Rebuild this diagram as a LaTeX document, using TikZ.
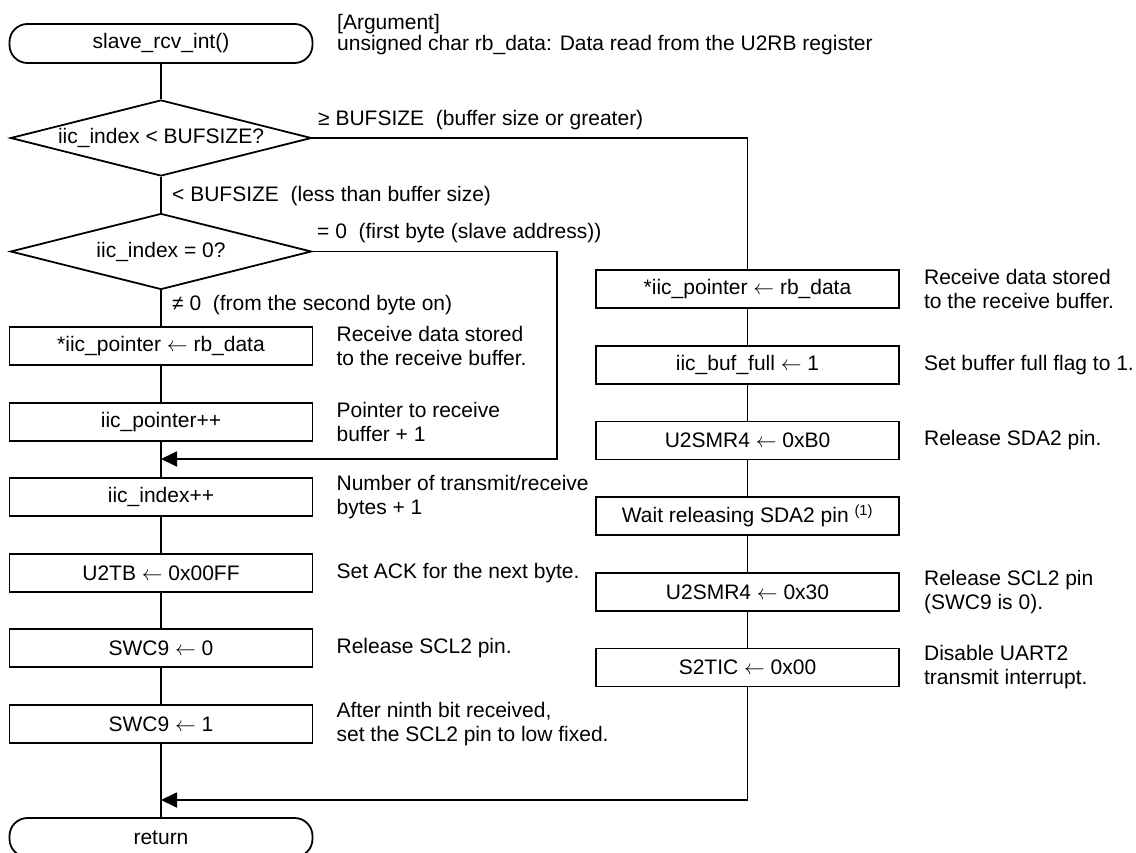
\documentclass[tikz,border=0pt]{standalone}
\usepackage{fontspec}
\setmainfont{Liberation Sans}
\usetikzlibrary{shapes.geometric,arrows.meta}

\newcommand{\assign}{\ $\leftarrow$\ }

\tikzset{
  flowbox/.style={draw, line width=1.8pt, minimum width=303pt, minimum height=38pt, inner sep=0pt},
  termbox/.style={draw, line width=1.8pt, rounded corners=18pt, minimum width=303pt, minimum height=39pt, inner sep=0pt},
  decision/.style={draw, diamond, line width=1.8pt, aspect=3.96, minimum width=301pt, minimum height=76pt, inner sep=0pt},
  note/.style={anchor=west, align=left, inner sep=0pt},
  branchtext/.style={anchor=base west, inner sep=0pt},
  flowline/.style={line width=1.8pt},
  flowarrow/.style={line width=1.8pt, -{Triangle[length=16pt,width=15pt]}}
}

\begin{document}
\begin{tikzpicture}[x=1pt, y=-1pt, font=\fontsize{21}{24}\selectfont]

    % Page frame (the return box is cut at the bottom)
    \useasboundingbox (0,0) rectangle (1136,853);
    \clip (0,0) rectangle (1136,853);

    % Start terminal and argument
    \node[termbox] (start) at (161,43.5) {slave\_rcv\_int()};
    \node[branchtext] (arg) at (337,30) {[Argument]};
    \node[branchtext] (argdesc) at (337,51) {unsigned char rb\_data: Data read from the U2RB register};

    % Decisions
    \node[decision] (idx) at (161,138) {iic\_index < BUFSIZE?};
    \node[decision] (first) at (161,251.5) {iic\_index = 0?};

    % Branch labels
    \node[branchtext] (ge) at (318,126) {≥ BUFSIZE\ \ (buffer size or greater)};
    \node[branchtext] (lt) at (172,202) {< BUFSIZE\ \ (less than buffer size)};
    \node[branchtext] (eq) at (317,239) {= 0\ \ (first byte (slave address))};
    \node[branchtext] (ne) at (172,310) {≠ 0\ \ (from the second byte on)};

    % Left column: normal receive
    \node[flowbox] (lstore) at (161,346) {*iic\_pointer\assign rb\_data};
    \node[flowbox] (lptr) at (161,422) {iic\_pointer++};
    \node[flowbox] (lidx) at (161,497) {iic\_index++};
    \node[flowbox] (ack) at (161,573) {U2TB\assign 0x00FF};
    \node[flowbox] (swcoff) at (161,648) {SWC9\assign 0};
    \node[flowbox] (swcon) at (161,724) {SWC9\assign 1};
    \node[termbox] (ret) at (161,837.5) {return};

    % Left column notes
    \node[note] (nlstore) at ([xshift=23pt]lstore.east) {Receive data stored\\to the receive buffer.};
    \node[note] (nlptr) at ([xshift=23pt]lptr.east) {Pointer to receive\\buffer + 1};
    \node[note] (nlidx) at ([xshift=23pt]lidx.east) {Number of transmit/receive\\bytes + 1};
    \node[note] (nack) at ([xshift=23pt]ack.east) {Set ACK for the next byte.};
    \node[note] (nswcoff) at ([xshift=23pt]swcoff.east) {Release SCL2 pin.};
    \node[note] (nswcon) at ([xshift=23pt]swcon.east) {After ninth bit received,\\set the SCL2 pin to low fixed.};

    % Right column: buffer full
    \node[flowbox] (rstore) at (747.5,289) {*iic\_pointer\assign rb\_data};
    \node[flowbox] (full) at (747.5,365) {iic\_buf\_full\assign 1};
    \node[flowbox] (sda) at (747.5,440.5) {U2SMR4\assign 0xB0};
    \node[flowbox] (wait) at (747.5,516) {Wait releasing SDA2 pin \textsuperscript{(1)}};
    \node[flowbox] (scl) at (747.5,592) {U2SMR4\assign 0x30};
    \node[flowbox] (s2tic) at (747.5,667.5) {S2TIC\assign 0x00};

    % Right column notes
    \node[note] (nrstore) at ([xshift=24pt]rstore.east) {Receive data stored\\to the receive buffer.};
    \node[note] (nfull) at ([xshift=24pt]full.east) {Set buffer full flag to 1.};
    \node[note] (nsda) at ([xshift=24pt]sda.east) {Release SDA2 pin.};
    \node[note] (nscl) at ([xshift=24pt]scl.east) {Release SCL2 pin\\(SWC9 is 0).};
    \node[note] (ns2tic) at ([xshift=24pt]s2tic.east) {Disable UART2\\transmit interrupt.};

    % Main flow lines
    \draw[flowline] (start) -- (idx) -- (first) -- (lstore) -- (lptr) -- (lidx) -- (ack) -- (swcoff) -- (swcon) -- (ret);
    \draw[flowline] (idx.east) -| (rstore.north);
    \draw[flowline] (rstore) -- (full) -- (sda) -- (wait) -- (scl) -- (s2tic);

    % Joins back into the left column
    \coordinate (skip) at (557,459);
    \coordinate (join1) at (161,459);
    \coordinate (join2) at (161,800);
    \draw[flowarrow] (first.east) -| (skip) -- (join1);
    \draw[flowarrow] (s2tic.south) |- (join2);

\end{tikzpicture}
\end{document}
